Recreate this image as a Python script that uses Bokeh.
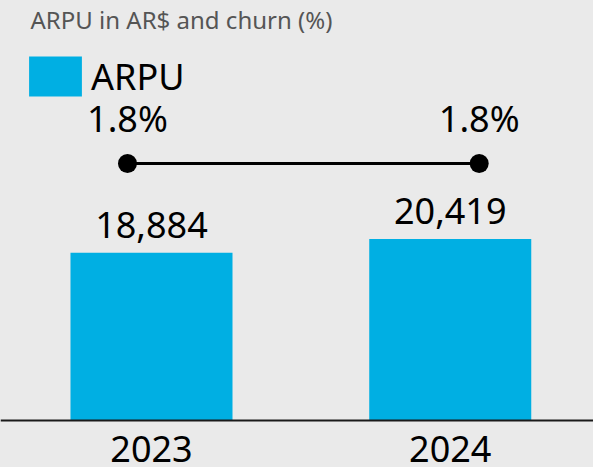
from bokeh.plotting import figure
from bokeh.models import (Range1d, ColumnDataSource, Label, Legend, LegendItem,
                          GlobalInlineStyleSheet, Span)
from bokeh.core.properties import value
from bokeh.embed import file_html
from bokeh.resources import INLINE

# ---- data ----
title_text = "ARPU in AR$ and churn (%)"
years = ["2023", "2024"]
arpu = [18884, 20419]
churn = [1.8, 1.8]
series_name = "ARPU"

# ---- style ----
BG = "#eaeaea"
BLUE = "#00afe3"
FONT = "Noto Sans"
W, H = 593, 467

idx = list(range(len(years)))
src = ColumnDataSource(dict(
    x=idx,
    year=years,
    base=[0] * len(years),
    arpu=arpu,
    arpu_lbl=[f"{v:,}" for v in arpu],
    churn=churn,
    churn_lbl=[f"{c}%" for c in churn],
))

p = figure(width=W, height=H, output_backend="svg", toolbar_location=None,
           x_range=Range1d(-0.5054, 1.4795), y_range=Range1d(-5287.5, 47250),
           min_border_left=0, min_border_right=0, min_border_top=0,
           min_border_bottom=0, x_axis_location=None, y_axis_location=None,
           background_fill_color=BG, border_fill_color=BG,
           outline_line_color=None)
p.grid.visible = False
p.stylesheets = [GlobalInlineStyleSheet(
    css="html, body {margin:0 !important; padding:0 !important; background:%s; overflow:hidden;}" % BG)]

p.extra_x_ranges = {"churn": Range1d(-0.3611, 1.325)}
p.extra_y_ranges = {"churn": Range1d(0, 2.7651)}

bars = p.vbar(x="x", top="arpu", width=0.5423, source=src,
              fill_color=BLUE, line_color=None)
p.add_layout(Span(location=0, dimension="width", line_color="#1a1a1a", line_width=2))

p.line(x="x", y="churn", source=src, x_range_name="churn", y_range_name="churn",
       line_color="black", line_width=3)
p.scatter(x="x", y="churn", source=src, x_range_name="churn", y_range_name="churn",
          size=19, fill_color="black", line_color=None)
p.text(x="x", y="churn", text="churn_lbl", source=src,
       x_range_name="churn", y_range_name="churn",
       text_align="center", text_baseline="alphabetic", y_offset=-45,
       text_font=value(FONT), text_font_size="36px", text_color="black")
p.text(x="x", y="arpu", text="arpu_lbl", source=src,
       text_align="center", text_baseline="alphabetic", y_offset=-28,
       text_font=value(FONT), text_font_size="36px", text_color="black")
# category (year) labels under the baseline
p.text(x="x", y="base", text="year", source=src,
       text_align="center", text_baseline="alphabetic", y_offset=28,
       text_font=value(FONT), text_font_size="36px", text_color="black")

legend = Legend(items=[LegendItem(label=series_name, renderers=[bars])],
                location=(22, 366), glyph_width=66, glyph_height=50,
                label_text_font=FONT, label_text_font_size="36px",
                label_text_color="black", label_height=50,
                padding=0, margin=0, spacing=0, label_standoff=3,
                border_line_color=None, background_fill_alpha=0)
p.add_layout(legend)

p.add_layout(Label(x=30, y=448, x_units="screen", y_units="screen",
                   text=title_text, text_font=FONT, text_font_size="24px",
                   text_color="#555555", text_baseline="alphabetic"))

open("out.html", "w").write(file_html(p, INLINE))
